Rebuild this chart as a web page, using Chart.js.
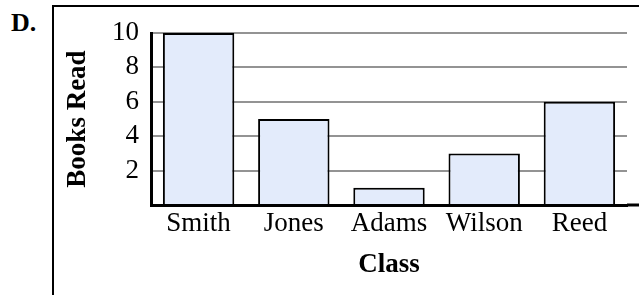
<!DOCTYPE html>
<html>
<head>
<meta charset="utf-8">
<script src="https://cdn.jsdelivr.net/npm/chart.js@4"></script>
<style>
  html, body { margin: 0; padding: 0; background: #fff; }
  #wrap { position: relative; width: 639px; height: 295px; overflow: hidden; }
  #box { position: absolute; left: 52px; top: 5px; right: -10px; bottom: -10px;
         border-left: 2px solid #000; border-top: 2px solid #000; }
  #label { position: absolute; left: 11px; top: 8px; font-family: 'Liberation Serif', serif;
           font-weight: bold; font-size: 26px; }
  canvas { position: absolute; left: 0; top: 0; }
</style>
</head>
<body>
<div id="wrap">
  <div id="box"></div>
  <div id="label">D.</div>
  <canvas id="chart" width="639" height="295"></canvas>
</div>
<script>
const classes = ['Smith', 'Jones', 'Adams', 'Wilson', 'Reed']
const booksRead = [10, 5, 1, 3, 6]
const yTicks = [2, 4, 6, 8, 10]

// x axis line runs on to the right edge of the picture
const axisTail = {
  id: 'axisTail',
  afterDraw(chart) {
    const {ctx, chartArea} = chart
    ctx.save()
    ctx.strokeStyle = '#000'
    ctx.lineWidth = 3
    ctx.beginPath()
    ctx.moveTo(chartArea.right, chartArea.bottom)
    ctx.lineTo(chart.width, chartArea.bottom)
    ctx.stroke()
    ctx.restore()
  }
}

Chart.defaults.font.family = 'Liberation Serif'
Chart.defaults.font.size = 27
Chart.defaults.color = '#000'

new Chart(document.getElementById('chart').getContext('2d'), {
  type: 'bar',
  data: {
    labels: classes,
    datasets: [{
      data: booksRead,
      backgroundColor: '#e3ebfb',
      borderColor: '#000',
      borderWidth: 2,
      categoryPercentage: 1,
      barPercentage: 0.75
    }]
  },
  options: {
    responsive: false,
    animation: false,
    layout: { padding: { left: 0, right: 12, top: 33, bottom: 0 } },
    plugins: { legend: { display: false }, tooltip: { enabled: false } },
    scales: {
      x: {
        grid: { display: false, drawTicks: false },
        border: { display: true, color: '#000', width: 3 },
        ticks: { padding: 3, autoSkip: false, maxRotation: 0 },
        title: { display: true, text: 'Class', padding: { top: 0, bottom: 14 },
                 font: { weight: 'bold' } },
        afterFit(scale) { scale.height = 90 }
      },
      y: {
        min: 0, max: 10,
        grid: { color: '#939393', lineWidth: 2, drawTicks: false },
        border: { display: true, color: '#000', width: 3 },
        afterBuildTicks(scale) { scale.ticks = [0].concat(yTicks).map(v => ({value: v})) },
        ticks: { padding: 12, autoSkip: false, callback: v => v === 0 ? '' : v },
        title: { display: true, text: 'Books Read', padding: { top: 62, bottom: 0 },
                 font: { weight: 'bold' } },
        afterFit(scale) { scale.width = 151 }
      }
    }
  },
  plugins: [axisTail]
})
</script>
</body>
</html>
